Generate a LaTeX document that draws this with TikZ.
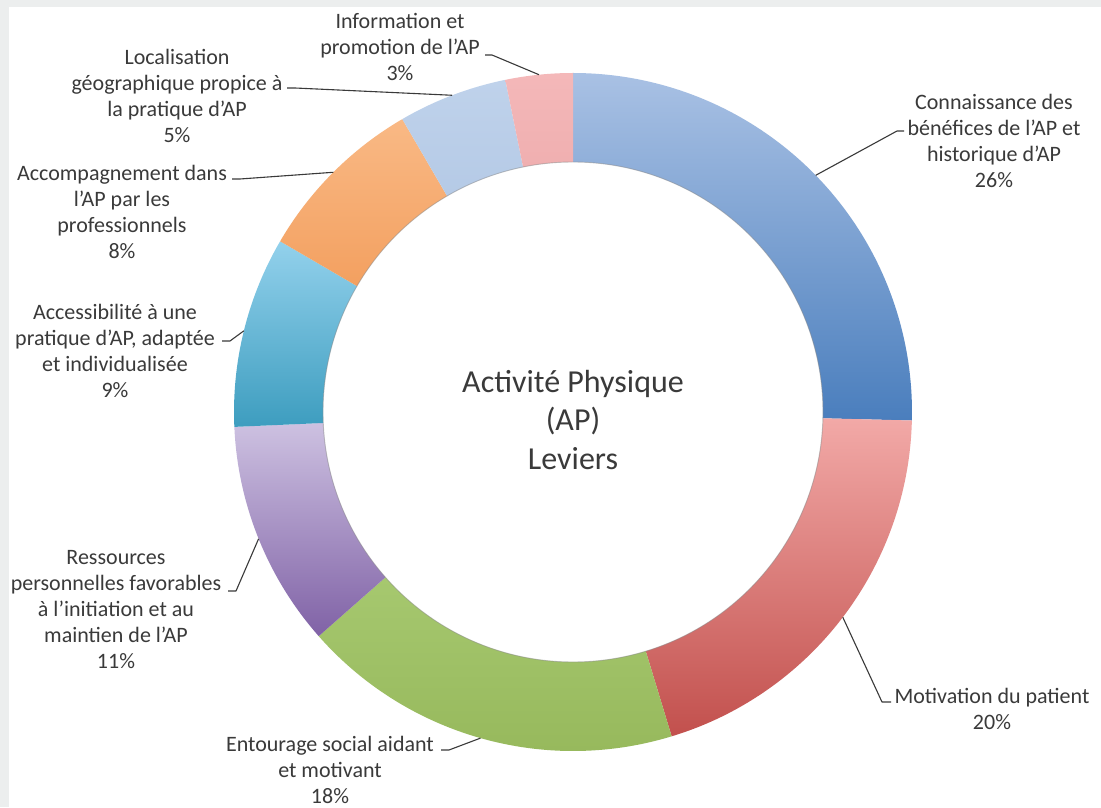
\documentclass[tikz,border=0pt]{standalone}
\usepackage{fontspec}
\setmainfont{Carlito}
\usetikzlibrary{calc}
\definecolor{txt}{HTML}{3A3A3A}
\definecolor{bggray}{HTML}{ECEEEE}
\definecolor{blueT}{HTML}{A9C1E4}\definecolor{blueB}{HTML}{4A7EBD}
\definecolor{redT}{HTML}{F2A9A7}\definecolor{redB}{HTML}{C2504D}
\definecolor{greenT}{HTML}{A6C86F}\definecolor{greenB}{HTML}{95B75A}
\definecolor{purpT}{HTML}{CDC1E1}\definecolor{purpB}{HTML}{8062A6}
\definecolor{cyanT}{HTML}{93D1EC}\definecolor{cyanB}{HTML}{3D9DBF}
\definecolor{oranT}{HTML}{F9B985}\definecolor{oranB}{HTML}{F3A060}
\definecolor{lblueT}{HTML}{BFD2EB}\definecolor{lblueB}{HTML}{B5CAE6}
\definecolor{pinkT}{HTML}{F4B8B9}\definecolor{pinkB}{HTML}{F0AFB0}
\newcommand\donutseg[4]{%
  \shade[top color=#3,bottom color=#4]
    ($(C)+(#1:339pt)$) arc[start angle=#1,end angle=#2,radius=339pt]
    -- ($(C)+(#2:250pt)$) arc[start angle=#2,end angle=#1,radius=250pt] -- cycle;}
\begin{document}
\begin{tikzpicture}[x=1pt,y=1pt,
  lab/.style={align=center,text=txt,inner sep=0pt,font=\fontsize{22}{26}\selectfont},
  title/.style={align=center,text=txt,inner sep=0pt,font=\fontsize{32}{38.5}\selectfont},
  leader/.style={draw=txt,line width=1.1pt,line join=round}]
\useasboundingbox (0,0) rectangle (1101,807);
\clip (0,0) rectangle (1101,807);
\fill[bggray] (0,0) rectangle (1101,807);
\fill[white] (9,0) rectangle (1101,800);
\coordinate (C) at (573,395);
% segments
\donutseg{90}{-1.44}{blueT}{blueB}
\donutseg{-1.44}{-73.08}{redT}{redB}
\donutseg{-73.08}{-138.6}{greenT}{greenB}
\donutseg{-138.6}{-177.48}{purpT}{purpB}
\donutseg{-177.48}{-210.24}{cyanT}{cyanB}
\donutseg{-210.24}{-239.76}{oranT}{oranB}
\donutseg{-239.76}{-258.48}{lblueT}{lblueB}
\donutseg{-258.48}{-270}{pinkT}{pinkB}
\draw[black!45,opacity=0.5,line width=0.9pt] (C) circle[radius=250pt];
% leader targets
\coordinate (pA) at ($(C)+(44.28:339pt)$);
\coordinate (pB) at ($(C)+(-37.26:339pt)$);
\coordinate (pC) at ($(C)+(-105.84:339pt)$);
\coordinate (pD) at ($(C)+(-158.04:339pt)$);
\coordinate (pE) at ($(C)+(-193.86:339pt)$);
\coordinate (pF) at ($(C)+(-225:339pt)$);
\coordinate (pG) at ($(C)+(-249.12:339pt)$);
\coordinate (pH) at ($(C)+(-264.24:339pt)$);
% title
\node[title] (ttl) at (573,387) {Activité Physique\\(AP)\\Leviers};
% labels
\node[lab] (lA) at (994,666) {Connaissance des\\bénéfices de l'AP et\\historique d'AP\\26\%};
\node[lab] (lB) at (992,98) {Motivation du patient\\20\%};
\node[lab] (lC) at (330,37) {Entourage social aidant\\et motivant\\18\%};
\node[lab] (lD) at (116,197) {Ressources\\personnelles favorables\\à l'initiation et au\\maintien de l'AP\\11\%};
\node[lab] (lE) at (115,456) {Accessibilité à une\\pratique d'AP, adaptée\\et individualisée\\9\%};
\node[lab] (lF) at (122,595) {Accompagnement dans\\l'AP par les\\professionnels\\8\%};
\node[lab] (lG) at (177,711) {Localisation\\géographique propice à\\la pratique d'AP\\5\%};
\node[lab] (lH) at (400,760) {Information et\\promotion de l'AP\\3\%};
% leader starts
\coordinate (sA) at (904,676); \coordinate (tA) at (897,676);
\coordinate (sB) at (891,105); \coordinate (tB) at (882,105);
\coordinate (sC) at (441,57);  \coordinate (tC) at (449,57);
\coordinate (sD) at (228,216); \coordinate (tD) at (236,216);
\coordinate (sE) at (222,466); \coordinate (tE) at (230,466);
\coordinate (sF) at (232,628); \coordinate (tF) at (240,628);
\coordinate (sG) at (287,719); \coordinate (tG) at (295,719);
\coordinate (sH) at (485,752); \coordinate (tH) at (492,752);
\draw[leader] (sA) -- (tA) -- (pA);
\draw[leader] (sB) -- (tB) -- (pB);
\draw[leader] (sC) -- (tC) -- (pC);
\draw[leader] (sD) -- (tD) -- (pD);
\draw[leader] (sE) -- (tE) -- (pE);
\draw[leader] (sF) -- (tF) -- (pF);
\draw[leader] (sG) -- (tG) -- (pG);
\draw[leader] (sH) -- (tH) -- (pH);
\end{tikzpicture}
\end{document}
